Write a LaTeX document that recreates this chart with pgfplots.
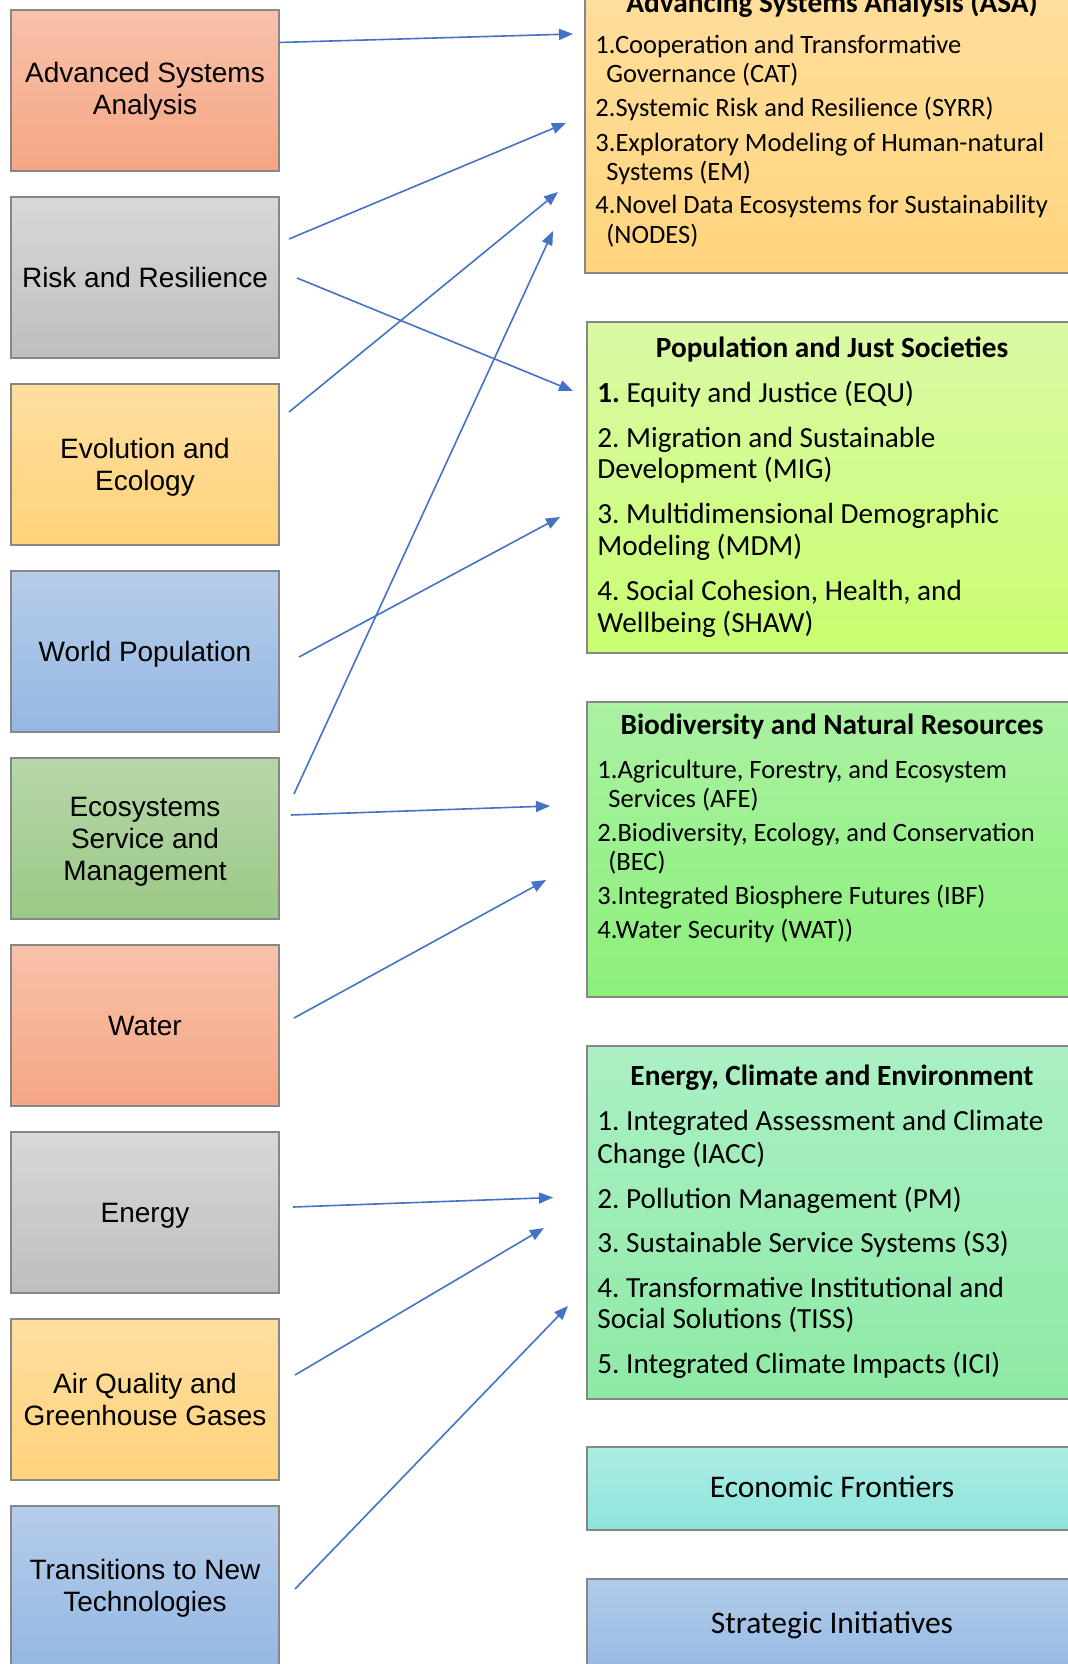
\documentclass[border=0pt]{standalone}
\usepackage{pgfplots}
\pgfplotsset{compat=1.18}
\usepackage{fontspec}
\setmainfont{Carlito}
\newfontfamily\lsans{Liberation Sans}
\usetikzlibrary{arrows.meta}
\frenchspacing
\definecolor{bord}{RGB}{135,135,135}
\definecolor{arr}{RGB}{68,114,196}
\definecolor{salT}{RGB}{248,194,170}\definecolor{salB}{RGB}{245,166,132}
\definecolor{grT}{RGB}{216,216,216}\definecolor{grB}{RGB}{190,190,190}
\definecolor{yeT}{RGB}{255,222,160}\definecolor{yeB}{RGB}{255,211,122}
\definecolor{blT}{RGB}{182,204,234}\definecolor{blB}{RGB}{148,184,226}
\definecolor{gnT}{RGB}{182,215,168}\definecolor{gnB}{RGB}{156,201,134}
\definecolor{asT}{RGB}{255,222,156}\definecolor{asB}{RGB}{255,212,125}
\definecolor{poT}{RGB}{218,249,165}\definecolor{poB}{RGB}{200,254,112}
\definecolor{biT}{RGB}{170,241,162}\definecolor{biB}{RGB}{140,240,122}
\definecolor{enT}{RGB}{170,240,196}\definecolor{enB}{RGB}{142,233,165}
\definecolor{ecT}{RGB}{172,236,228}\definecolor{ecB}{RGB}{140,230,220}
\definecolor{stT}{RGB}{176,202,234}\definecolor{stB}{RGB}{150,186,226}
\newcommand{\LT}[3]{\node[anchor=base,inner sep=0pt,font=\lsans\fontsize{14}{16}\selectfont] at (axis cs:#1,#2) {#3};}
\newcommand{\RT}[4]{\node[anchor=base west,inner sep=0pt,font=\fontsize{#3}{#3}\selectfont] at (axis cs:#1,#2) {#4};}
\newcommand{\RH}[3]{\node[anchor=base,inner sep=0pt,font=\bfseries\fontsize{14.65}{16}\selectfont] at (axis cs:#1,#2) {#3};}
\begin{document}
\begin{tikzpicture}
\useasboundingbox (0,0) rectangle (534pt,832pt);
\clip (0,0) rectangle (534pt,832pt);
\begin{axis}[
  x=0.5pt, y=0.5pt, y dir=reverse,
  xmin=0, xmax=1068, ymin=0, ymax=1664,
  hide axis, clip=true, anchor=south west, at={(0,0)},
  no markers,
  box/.style={draw=bord, line width=1pt},
  ar/.style={draw=arr, line width=0.8pt, -{Triangle[length=7pt,width=5.5pt]}},
]
% left boxes
\addplot[box, top color=salT, bottom color=salB] coordinates {(11,10) (279,10) (279,171) (11,171)} -- cycle;
\addplot[box, top color=grT, bottom color=grB] coordinates {(11,197) (279,197) (279,358) (11,358)} -- cycle;
\addplot[box, top color=yeT, bottom color=yeB] coordinates {(11,384) (279,384) (279,545) (11,545)} -- cycle;
\addplot[box, top color=blT, bottom color=blB] coordinates {(11,571) (279,571) (279,732) (11,732)} -- cycle;
\addplot[box, top color=gnT, bottom color=gnB] coordinates {(11,758) (279,758) (279,919) (11,919)} -- cycle;
\addplot[box, top color=salT, bottom color=salB] coordinates {(11,945) (279,945) (279,1106) (11,1106)} -- cycle;
\addplot[box, top color=grT, bottom color=grB] coordinates {(11,1132) (279,1132) (279,1293) (11,1293)} -- cycle;
\addplot[box, top color=yeT, bottom color=yeB] coordinates {(11,1319) (279,1319) (279,1480) (11,1480)} -- cycle;
\addplot[box, top color=blT, bottom color=blB] coordinates {(11,1506) (279,1506) (279,1667) (11,1667)} -- cycle;
% right boxes
\addplot[box, top color=asT, bottom color=asB] coordinates {(585,-10) (1078,-10) (1078,273) (585,273)} -- cycle;
\addplot[box, top color=poT, bottom color=poB] coordinates {(587,322) (1078,322) (1078,653) (587,653)} -- cycle;
\addplot[box, top color=biT, bottom color=biB] coordinates {(587,702) (1078,702) (1078,997) (587,997)} -- cycle;
\addplot[box, top color=enT, bottom color=enB] coordinates {(587,1046) (1078,1046) (1078,1399) (587,1399)} -- cycle;
\addplot[box, top color=ecT, bottom color=ecB] coordinates {(587,1447) (1078,1447) (1078,1530) (587,1530)} -- cycle;
\addplot[box, top color=stT, bottom color=stB] coordinates {(587,1579) (1078,1579) (1078,1680) (587,1680)} -- cycle;
% arrows
\addplot[ar] coordinates {(279,42.5) (573,34)};
\addplot[ar] coordinates {(289,239) (566,123)};
\addplot[ar] coordinates {(297,278) (573,391)};
\addplot[ar] coordinates {(289,412) (558,192)};
\addplot[ar] coordinates {(299,657) (560,517)};
\addplot[ar] coordinates {(294,794) (553,231)};
\addplot[ar] coordinates {(291,815) (550,806)};
\addplot[ar] coordinates {(294,1018) (546,880)};
\addplot[ar] coordinates {(293,1207) (553,1197.5)};
\addplot[ar] coordinates {(295,1375) (544,1228)};
\addplot[ar] coordinates {(295,1589) (568,1306)};
% left texts
\LT{145}{83}{Advanced Systems}
\LT{145}{115}{Analysis}
\LT{145}{287}{Risk and Resilience}
\LT{145}{458}{Evolution and}
\LT{145}{490}{Ecology}
\LT{145}{661}{World Population}
\LT{145}{816}{Ecosystems}
\LT{145}{848}{Service and}
\LT{145}{880}{Management}
\LT{145}{1035}{Water}
\LT{145}{1222}{Energy}
\LT{145}{1393}{Air Quality and}
\LT{145}{1425}{Greenhouse Gases}
\LT{145}{1579}{Transitions to New}
\LT{145}{1611}{Technologies}
% ASA
\RH{832}{13}{Advancing Systems Analysis (ASA)}
\RT{595}{54}{13.25}{1.Cooperation and Transformative}
\RT{606}{83}{13.25}{Governance (CAT)}
\RT{595}{117}{13.25}{2.Systemic Risk and Resilience (SYRR)}
\RT{595}{152}{13.25}{3.Exploratory Modeling of Human-natural}
\RT{606}{181}{13.25}{Systems (EM)}
\RT{595}{214}{13.25}{4.Novel Data Ecosystems for Sustainability}
\RT{606}{243}{13.25}{(NODES)}
% Population
\RH{832}{357}{Population and Just Societies}
\RT{597}{402}{14.6}{\textbf{1.} Equity and Justice (EQU)}
\RT{597}{447}{14.6}{2. Migration and Sustainable}
\RT{597}{478}{14.6}{Development (MIG)}
\RT{597}{523}{14.6}{3. Multidimensional Demographic}
\RT{597}{555}{14.6}{Modeling (MDM)}
\RT{597}{600}{14.6}{4. Social Cohesion, Health, and}
\RT{597}{632}{14.6}{Wellbeing (SHAW)}
% Biodiversity
\RH{832}{734}{Biodiversity and Natural Resources}
\RT{597}{778}{13.25}{1.Agriculture, Forestry, and Ecosystem}
\RT{608}{807}{13.25}{Services (AFE)}
\RT{597}{841}{13.25}{2.Biodiversity, Ecology, and Conservation}
\RT{608}{870}{13.25}{(BEC)}
\RT{597}{904}{13.25}{3.Integrated Biosphere Futures (IBF)}
\RT{597}{938}{13.25}{4.Water Security (WAT))}
% Energy
\RH{832}{1085}{Energy, Climate and Environment}
\RT{597}{1130}{14.6}{1. Integrated Assessment and Climate}
\RT{597}{1163}{14.6}{Change (IACC)}
\RT{597}{1208}{14.6}{2. Pollution Management (PM)}
\RT{597}{1252}{14.6}{3. Sustainable Service Systems (S3)}
\RT{597}{1297}{14.6}{4. Transformative Institutional and}
\RT{597}{1328}{14.6}{Social Solutions (TISS)}
\RT{597}{1373}{14.6}{5. Integrated Climate Impacts (ICI)}
% Economic, Strategic
\node[anchor=base,inner sep=0pt,font=\fontsize{15.75}{18}\selectfont] at (axis cs:832,1497) {Economic Frontiers};
\node[anchor=base,inner sep=0pt,font=\fontsize{15.75}{18}\selectfont] at (axis cs:832,1633) {Strategic Initiatives};
\end{axis}
\end{tikzpicture}
\end{document}
